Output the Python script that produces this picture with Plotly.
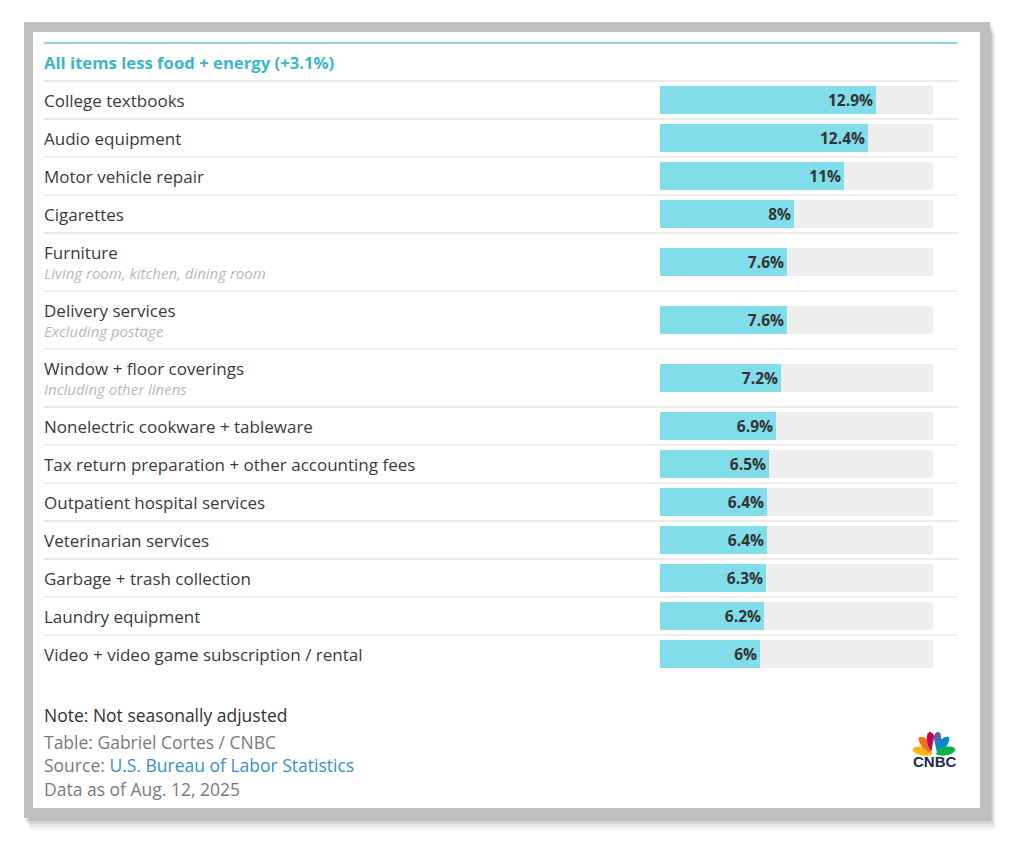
import numpy as np
import plotly.graph_objects as go

# data
header = "All items less food + energy (+3.1%)"
items = [
    "College textbooks", "Audio equipment", "Motor vehicle repair", "Cigarettes",
    "Furniture", "Delivery services", "Window + floor coverings",
    "Nonelectric cookware + tableware", "Tax return preparation + other accounting fees",
    "Outpatient hospital services", "Veterinarian services", "Garbage + trash collection",
    "Laundry equipment", "Video + video game subscription / rental",
]
notes = [
    "", "", "", "", "Living room, kitchen, dining room", "Excluding postage",
    "Including other linens", "", "", "", "", "", "", "",
]
values = [12.9, 12.4, 11, 8, 7.6, 7.6, 7.2, 6.9, 6.5, 6.4, 6.4, 6.3, 6.2, 6]
X_MAX = 16.3

W, H = 1024, 851
FONT = "Open Sans"
TEAL = "#80dde9"
TEXT = "#3a3a3a"
LEFT = 42  # annotation x (plotly adds a small pad)

# row layout (pixel units, y grows downward)
top = 81
centers, label_y, note_y, seps = [], [], [], [top]
for n in notes:
    h = 58 if n else 38
    c = top + h / 2
    centers.append(c)
    label_y.append(c - 10 if n else c)
    note_y.append(c + 11)
    top += h
    seps.append(top)
seps = seps[:-1]

fig = go.Figure()
fig.add_trace(go.Bar(
    x=[X_MAX] * len(values), y=centers, orientation="h", width=28,
    marker=dict(color="#eeeeee", line=dict(width=0)),
    xaxis="x2", yaxis="y", hoverinfo="skip", showlegend=False,
))
fig.add_trace(go.Bar(
    x=values, y=centers, orientation="h", width=28,
    marker=dict(color=TEAL, line=dict(width=0)),
    text=[f"<b>{v:g}%</b>" for v in values],
    textposition="inside", insidetextanchor="end",
    insidetextfont=dict(family=FONT, size=15.5, color="#333333"),
    textangle=0, constraintext="none",
    xaxis="x2", yaxis="y", showlegend=False,
))

shapes = []
# frame with soft shadow
for d, a in [(12, 0.04), (9, 0.06), (6, 0.08), (3, 0.1)]:
    shapes.append(dict(type="rect", x0=24 + d / 2, x1=990 + d / 2, y0=22 + d, y1=818 + d,
                       fillcolor=f"rgba(0,0,0,{a})", line_width=0, layer="below"))
shapes.append(dict(type="rect", x0=24, x1=990, y0=22, y1=818,
                   fillcolor="#bfbfbf", line_width=0, layer="below"))
shapes.append(dict(type="rect", x0=33, x1=980, y0=32, y1=808,
                   fillcolor="white", line_width=0, layer="below"))
shapes.append(dict(type="line", x0=44, x1=957, y0=43, y1=43,
                   line=dict(color="#8ad8e3", width=2), layer="below"))
for s in seps:
    shapes.append(dict(type="line", x0=44, x1=957, y0=s, y1=s,
                       line=dict(color="#ececec", width=2), layer="below"))

# CNBC peacock
bx, by = 934, 753
feathers = [(170, "#fcb711"), (133, "#f37021"), (102, "#cc004c"),
            (78, "#6460aa"), (47, "#0089d0"), (10, "#0db14b")]
t = np.linspace(0, 2 * np.pi, 30)
for ang, col in feathers:
    a = np.deg2rad(ang)
    cx, cy = bx + 11.5 * np.cos(a), by - 11.5 * np.sin(a)
    px = cx + 10 * np.cos(t) * np.cos(a) - 4.4 * np.sin(t) * np.sin(a)
    py = cy - (10 * np.cos(t) * np.sin(a) + 4.4 * np.sin(t) * np.cos(a))
    path = "M" + " L".join(f"{x:.1f},{y:.1f}" for x, y in zip(px, py)) + " Z"
    shapes.append(dict(type="path", path=path, fillcolor=col, line_width=0))
shapes.append(dict(type="path",
                   path=f"M{bx-3},{by} L{bx},{by-14} L{bx+3},{by} Z",
                   fillcolor="white", line_width=0))

for s in shapes:
    s.update(xref="x", yref="y")

ann = [dict(x=LEFT, y=62, text=f"<b>{header}</b>", xanchor="left", yanchor="middle",
            font=dict(family=FONT, size=16.7, color="#3db6c6"))]
for name, note, ly, ny in zip(items, notes, label_y, note_y):
    ann.append(dict(x=LEFT, y=ly, text=name, xanchor="left", yanchor="middle",
                    font=dict(family=FONT, size=17, color=TEXT)))
    if note:
        ann.append(dict(x=LEFT, y=ny, text=f"<i>{note}</i>", xanchor="left", yanchor="middle",
                        font=dict(family=FONT, size=15, color="#b8b8b8")))

footer = [
    (715, "Note: Not seasonally adjusted", "#333333"),
    (742, "Table: Gabriel Cortes / CNBC", "#7a7a7a"),
    (765, "Source: <span style='color:#3a8fc8'>U.S. Bureau of Labor Statistics</span>", "#7a7a7a"),
    (789, "Data as of Aug. 12, 2025", "#7a7a7a"),
]
for y, txt, col in footer:
    ann.append(dict(x=LEFT, y=y, text=txt, xanchor="left", yanchor="middle",
                    font=dict(family=FONT, size=17.5, color=col)))
ann.append(dict(x=934, y=761, text="<b>CNBC</b>", xanchor="center", yanchor="middle",
                font=dict(family="Liberation Sans", size=15, color="#1c2b4f")))

for a in ann:
    a.update(xref="x", yref="y", showarrow=False)

fig.update_layout(
    width=W, height=H, margin=dict(l=0, r=0, t=0, b=0),
    paper_bgcolor="white", plot_bgcolor="rgba(0,0,0,0)",
    barmode="overlay", bargap=0,
    xaxis=dict(range=[0, W], domain=[0, 1], visible=False, fixedrange=True),
    xaxis2=dict(range=[0, X_MAX], domain=[660 / W, 933 / W], anchor="y",
                visible=False, fixedrange=True),
    yaxis=dict(range=[H, 0], domain=[0, 1], visible=False, fixedrange=True),
    shapes=shapes, annotations=ann,
)

fig.write_html("out.html", config={"displayModeBar": False},
               post_script="document.body.style.margin='0';")
